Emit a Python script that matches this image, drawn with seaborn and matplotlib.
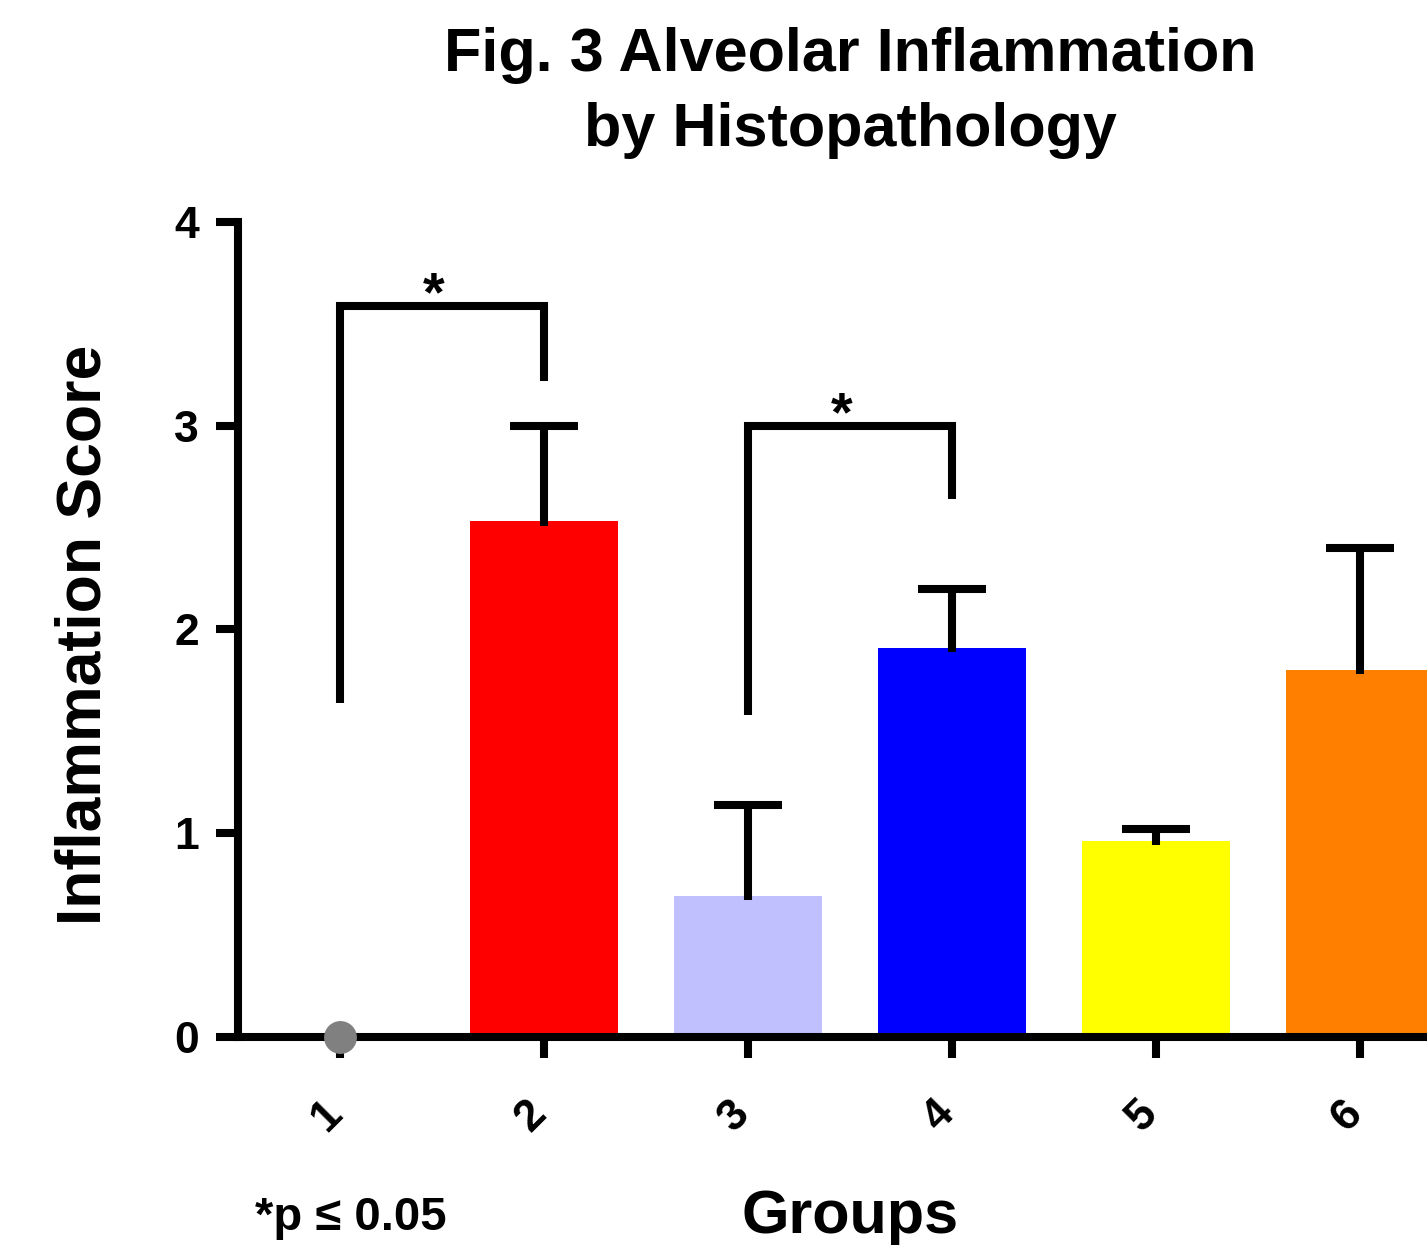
import numpy as np
import pandas as pd
import matplotlib
matplotlib.use("Agg")
import matplotlib.pyplot as plt
import matplotlib.transforms as mtransforms
import seaborn as sns

# datos
groups = ['1', '2', '3', '4', '5', '6']
means = [0.0, 2.53, 0.69, 1.91, 0.96, 1.80]
sem = [0.0, 0.47, 0.45, 0.29, 0.06, 0.60]
colors = ['#808080', '#FF0000', '#C0C0FF', '#0000FF', '#FFFF00', '#FF8000']

# comparaciones significativas: (grupo a, grupo b, altura, pata a, pata b)
sig_pairs = [('1', '2'), ('3', '4')]
sig_top = [3.59, 3.0]
sig_leg_a = [1.64, 1.58]
sig_leg_b = [3.22, 2.64]
sig_label = ['*', '*']

y_ticks = [0, 1, 2, 3, 4]

sns.set_style('ticks')
plt.rcParams['font.family'] = ['Liberation Sans', 'DejaVu Sans']
plt.rcParams['font.weight'] = 'bold'
for k in ['text.color', 'axes.labelcolor', 'xtick.color', 'ytick.color', 'axes.edgecolor']:
    plt.rcParams[k] = 'black'

LW = 5.8
CAP = 0.167  # medio ancho del cap en unidades de grupo

fig = plt.figure(figsize=(14.27, 12.45), dpi=100)
ax = fig.add_axes([0.1668, 0.1671, 0.8332, 0.6546])

df = pd.DataFrame({'group': groups, 'score': means, 'sem': sem})
sns.barplot(data=df, x='group', y='score', hue='group', palette=colors,
            legend=False, width=0.725, errorbar=None, saturation=1,
            linewidth=0, ax=ax)

# barras de error solo hacia arriba (estilo Prism)
pos = np.arange(len(groups))
m = np.array(means)
e = np.array(sem)
mask = e > 0
ax.vlines(pos[mask], m[mask] - 0.02, m[mask] + e[mask], color='black', lw=LW, zorder=3)
ax.hlines(m[mask] + e[mask], pos[mask] - CAP, pos[mask] + CAP, color='black', lw=LW, zorder=3)

# grupo con media 0 se ve como punto gris
zero = m == 0
ax.scatter(pos[zero], m[zero], s=560, color='#808080', zorder=5,
           clip_on=False, linewidths=0)

# corchetes de significancia
for (a, b), top, la, lb, lab in zip(sig_pairs, sig_top, sig_leg_a, sig_leg_b, sig_label):
    xa, xb = groups.index(a), groups.index(b)
    ax.plot([xa, xa, xb, xb], [la, top, top, lb], color='black', lw=LW,
            solid_joinstyle='miter', solid_capstyle='butt', clip_on=False)
    ax.text((xa + xb) / 2 - 0.04, top - 0.08, lab, ha='center', va='bottom',
            fontsize=40, fontweight='bold')

ax.set_xlim(-0.5, 5.33)
ax.set_ylim(0, 4)
ax.set_yticks(y_ticks)
ax.set_yticklabels([str(t) for t in y_ticks])
sns.despine(ax=ax)
for s in ['left', 'bottom']:
    ax.spines[s].set_linewidth(LW)
    ax.spines[s].set_capstyle('projecting')

ax.tick_params(axis='y', width=LW, length=16, pad=12, labelsize=32)
ax.tick_params(axis='x', width=LW, length=15, pad=25, labelsize=32)
for lbl in ax.get_xticklabels():
    lbl.set_rotation(45)
    lbl.set_ha('center')
    lbl.set_va('top')
    lbl.set_transform(lbl.get_transform() + mtransforms.ScaledTranslation(-0.13, 0, fig.dpi_scale_trans))
for lbl in ax.get_xticklabels() + ax.get_yticklabels():
    lbl.set_fontweight('bold')

ax.set_xlabel('Groups', fontsize=44, fontweight='bold', va='center')
ax.xaxis.set_label_coords(0.5147, -0.222)
ax.set_ylabel('Inflammation Score', fontsize=45, fontweight='bold', va='center')
ax.yaxis.set_label_coords(-0.1295, 0.493)

fig.text(0.5957, 0.978, 'Fig. 3 Alveolar Inflammation\nby Histopathology',
         ha='center', va='top', fontsize=44, fontweight='bold', linespacing=1.4)
fig.text(0.1787, 0.0217, '*p \u2264 0.05', ha='left', va='center',
         fontsize=34, fontweight='bold')

fig.savefig('out.png', dpi=100)
